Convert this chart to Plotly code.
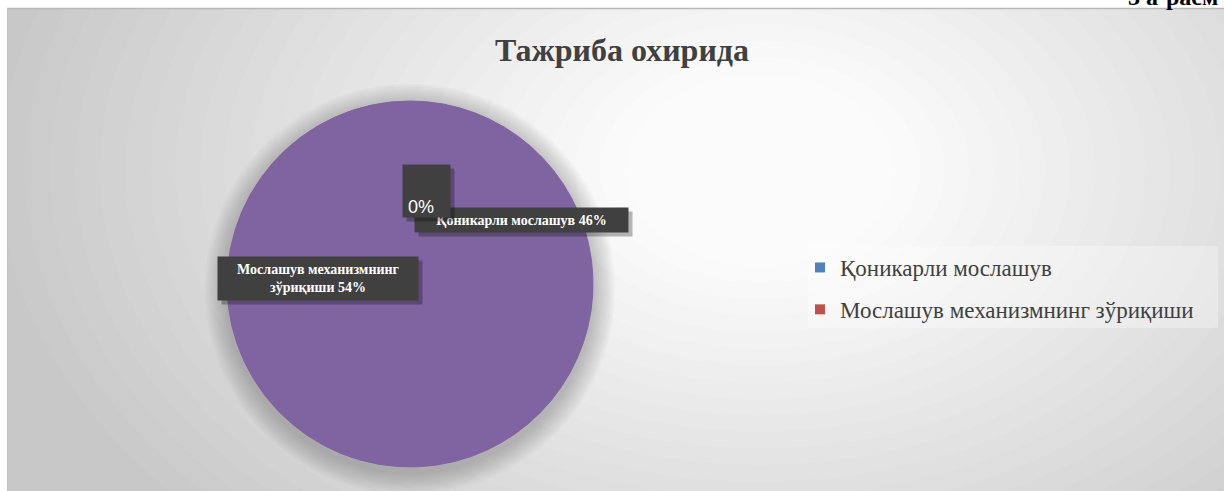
import plotly.graph_objects as go

W, H = 1224, 491

# ---- data ----
categories = ["Қоникарли мослашув", "Мослашув механизмнинг зўриқиши"]
values = [46, 54]
extra_label_value = 0          # the stray "0%" data label
legend_colors = ["#4F81BD", "#C0504D"]
pie_color = "#8064A2"
title_text = "Тажриба охирида"
caption_text = "3 а-расм"


def X(px):
    return px / W


def Y(py):
    return 1 - py / H


fig = go.Figure()

# pie (both slices drawn in the same purple, as in the reference)
fig.add_trace(go.Pie(
    labels=categories,
    values=values,
    marker=dict(colors=[pie_color] * len(values), line=dict(width=1, color=pie_color)),
    sort=False,
    direction="clockwise",
    rotation=0,
    textinfo="none",
    hoverinfo="label+percent",
    showlegend=False,
    domain=dict(x=[X(410 - 183), X(410 + 183)], y=[Y(284 + 183), Y(284 - 183)]),
))

# legend entries
for i, (name, col) in enumerate(zip(categories, legend_colors)):
    fig.add_trace(go.Scatter(
        x=[None], y=[None], mode="markers", name=name,
        legendgroup=f"g{i}",
        marker=dict(symbol="square", size=10, color=col),
    ))

shapes = []
# outer chart frame background
base_v = 200
shapes.append(dict(type="rect", xref="paper", yref="paper", layer="below",
                   x0=X(7), x1=X(W), y0=Y(H), y1=Y(8),
                   fillcolor=f"rgb({base_v},{base_v},{base_v})", line=dict(width=0)))
# radial-ish light gradient (stacked translucent ellipses)
cx, cy = 760, 170
n = 26
prev = base_v
for k in range(1, n + 1):
    f = 1 - k / n
    target = 252 - (252 - base_v) * (f ** 1.2)
    a = (target - prev) / (255 - prev)
    prev = target
    rx, ry = 110 + 650 * (f + 1 / n), 80 + 430 * (f + 1 / n)
    shapes.append(dict(type="circle", xref="paper", yref="paper", layer="below",
                       x0=X(cx - rx), x1=X(cx + rx), y0=Y(cy + ry), y1=Y(cy - ry),
                       fillcolor=f"rgba(255,255,255,{a:.4f})", line=dict(width=0)))
# re-clip left/top outside the frame
shapes.append(dict(type="rect", xref="paper", yref="paper", layer="below",
                   x0=0, x1=X(7), y0=0, y1=1, fillcolor="white", line=dict(width=0)))
shapes.append(dict(type="rect", xref="paper", yref="paper", layer="below",
                   x0=0, x1=1, y0=Y(8), y1=1, fillcolor="white", line=dict(width=0)))
shapes.append(dict(type="line", xref="paper", yref="paper", layer="below",
                   x0=X(7), x1=1, y0=Y(8.5), y1=Y(8.5), line=dict(color="#b8b8b8", width=1.5)))
shapes.append(dict(type="line", xref="paper", yref="paper", layer="below",
                   x0=X(7.5), x1=X(7.5), y0=0, y1=Y(8), line=dict(color="#c0c0c0", width=1)))
# pie shadow halo
pcx, pcy, pr = 410, 286, 183
for k in range(10):
    r = pr + 22 - k * 2.2
    shapes.append(dict(type="circle", xref="paper", yref="paper", layer="below",
                       x0=X(pcx - r), x1=X(pcx + r), y0=Y(pcy + 3 + r), y1=Y(pcy + 3 - r),
                       fillcolor="rgba(60,60,60,0.03)", line=dict(width=0)))
# legend box
shapes.append(dict(type="rect", xref="paper", yref="paper", layer="below",
                   x0=X(808), x1=X(1218), y0=Y(328), y1=Y(246),
                   fillcolor="rgba(255,255,255,0.3)", line=dict(width=0)))

annotations = []
box_bg = "#404040"
shadow_bg = "rgba(0,0,0,0.28)"
lab_font = dict(family="Liberation Serif", size=14, color="white")


def label_box(text, cxp, cyp, w, h, font, align="center", valign="middle"):
    for dx, dy, bg in ((4, 4, shadow_bg), (0, 0, box_bg)):
        annotations.append(dict(
            text=text if bg == box_bg else "", x=X(cxp + dx), y=Y(cyp + dy),
            xref="paper", yref="paper", xanchor="center", yanchor="middle",
            showarrow=False,
            width=w, height=h, bgcolor=bg, borderpad=0,
            align=align, valign=valign, font=font,
        ))


# label for the 54% slice (wrapped at last space)
name2 = categories[1]
head, tail = name2.rsplit(" ", 1)
label_box(f"<b>{head}<br>{tail} {values[1]}%</b>", 318, 278.5, 200, 43, lab_font)
# label for the 46% slice
label_box(f"<b>{categories[0]} {values[0]}%</b>", 521.5, 220, 213, 24, lab_font)
# stray 0% label
label_box(f" {extra_label_value}%", 426.5, 191, 47, 52,
          dict(family="Liberation Sans", size=18, color="white"),
          align="left", valign="bottom")

# cut-off caption at the top right
annotations.append(dict(text=f"<b>{caption_text}</b>", x=X(1126), y=Y(12),
                        xref="paper", yref="paper", xanchor="left", yanchor="bottom",
                        showarrow=False,
                        font=dict(family="Liberation Serif", size=24, color="black")))

fig.update_layout(
    width=W, height=H,
    margin=dict(l=0, r=0, t=0, b=0),
    paper_bgcolor="white",
    plot_bgcolor="rgba(0,0,0,0)",
    title=dict(text=f"<b>{title_text}</b>", x=X(622), xanchor="center",
               y=Y(50), yanchor="middle",
               font=dict(family="Liberation Serif", size=32, color="#404040")),
    xaxis=dict(visible=False), yaxis=dict(visible=False),
    showlegend=True,
    legend=dict(x=X(800), y=Y(246), xanchor="left", yanchor="top",
                bgcolor="rgba(0,0,0,0)", tracegroupgap=9, itemwidth=30,
                font=dict(family="Liberation Serif", size=23, color="#404040")),
    shapes=shapes,
    annotations=annotations,
)

fig.write_html("out.html", config={"displayModeBar": False},
               post_script="document.body.style.margin='0';")
